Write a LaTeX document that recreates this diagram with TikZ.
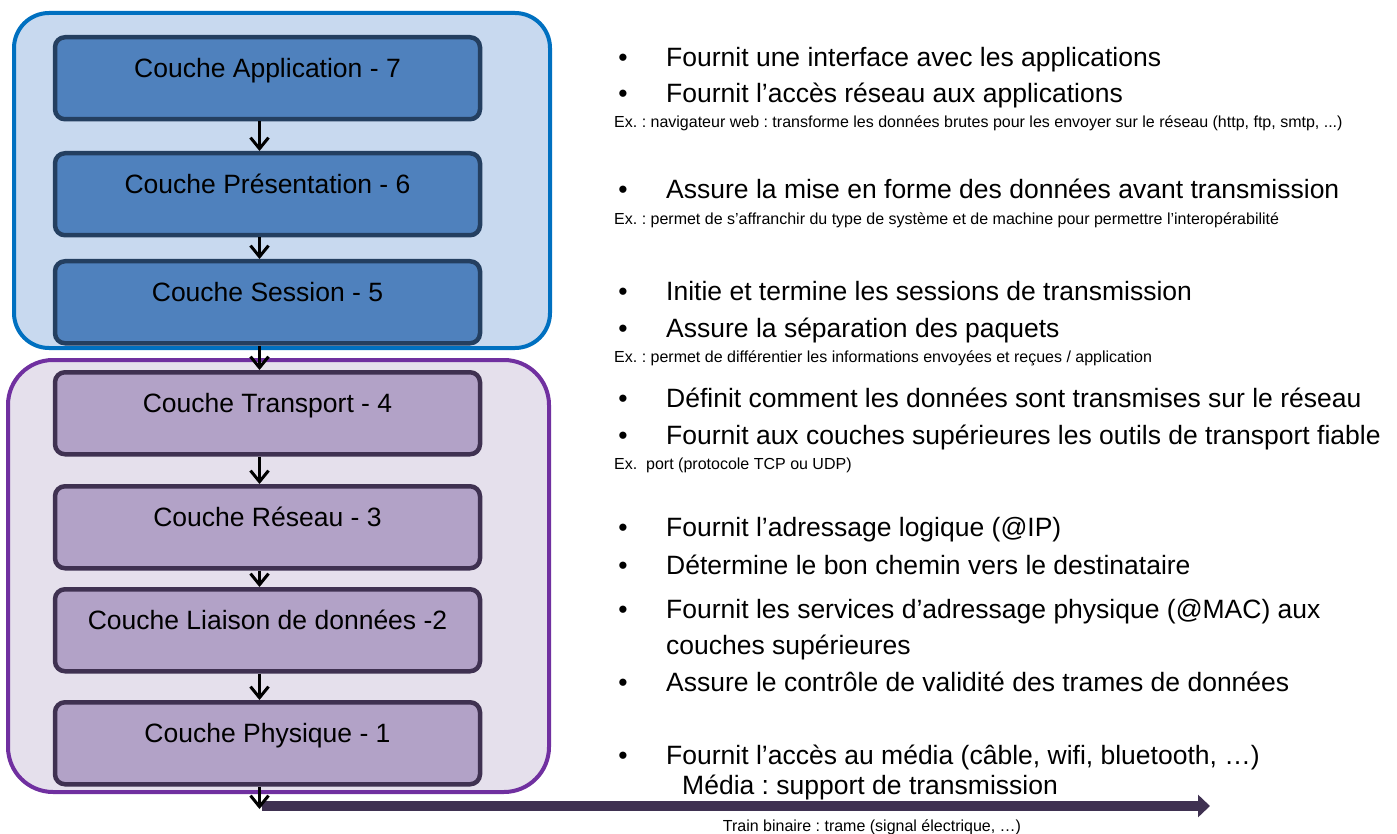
\documentclass[tikz,border=0pt]{standalone}
\usepackage{fontspec}
\setmainfont{Liberation Sans}
\usetikzlibrary{arrows.meta}
\definecolor{obB}{RGB}{0,112,192}
\definecolor{obF}{RGB}{200,217,239}
\definecolor{lbF}{RGB}{79,129,189}
\definecolor{lbD}{RGB}{36,63,96}
\definecolor{opB}{RGB}{112,48,160}
\definecolor{opF}{RGB}{229,224,236}
\definecolor{lpF}{RGB}{178,162,199}
\definecolor{lpD}{RGB}{63,49,81}
\frenchspacing
\begin{document}
\begin{tikzpicture}[x=1pt,y=-1pt,
  layer/.style={line width=4.5pt, rounded corners=10pt, minimum width=425pt,
    inner xsep=0pt, inner ysep=0pt, text height=40pt, text depth=42pt, anchor=north,
    font=\fontsize{26.5}{30}\selectfont},
  layerB/.style={layer, draw=lbD, fill=lbF},
  layerP/.style={layer, draw=lpD, fill=lpF},
  outerB/.style={draw=obB, fill=obF, line width=4pt, rounded corners=35pt},
  outerP/.style={draw=opB, fill=opF, line width=4pt, rounded corners=45pt},
  arr/.style={line width=3pt, -{Straight Barb[length=11pt,width=18pt]}},
  bar/.style={line width=10pt, draw=lpD, -{Triangle[length=12pt,width=22pt]}},
  txt/.style={anchor=base west, inner sep=0pt, font=\fontsize{26.5}{30}\selectfont},
  bul/.style={anchor=base, inner sep=0pt, font=\fontsize{26.5}{30}\selectfont},
  small/.style={anchor=base west, inner sep=0pt, font=\fontsize{16}{18}\selectfont}
]
\useasboundingbox (0,0) rectangle (1397,834);
% outer groups
\draw[outerB] (14,13) rectangle (550,348);
\draw[outerP] (8,360) rectangle (549,792);
% layers
\node[layerB] (L7) at (267.5,35) {Couche Application - 7};
\node[layerB] (L6) at (267.5,151) {Couche Présentation - 6};
\node[layerB] (L5) at (267.5,259) {Couche Session - 5};
\node[layerP] (L4) at (267.5,370) {Couche Transport - 4};
\node[layerP] (L3) at (267.5,484) {Couche Réseau - 3};
\node[layerP] (L2) at (267.5,587) {Couche Liaison de données -2};
\node[layerP] (L1) at (267.5,700) {Couche Physique - 1};
% bottom bar
\coordinate (bs) at (262,806);
\coordinate (be) at (1210,806);
\draw[bar] (bs) -- (be);
% arrows
\draw[arr] ([xshift=-8pt]L7.south) -- ([xshift=-8pt]L6.north);
\draw[arr] ([xshift=-8pt]L6.south) -- ([xshift=-8pt]L5.north);
\draw[arr] ([xshift=-8pt]L5.south) -- ([xshift=-8pt]L4.north);
\draw[arr] ([xshift=-8pt]L4.south) -- ([xshift=-8pt]L3.north);
\draw[arr] ([xshift=-8pt]L3.south) -- ([xshift=-8pt]L2.north);
\draw[arr] ([xshift=-8pt]L2.south) -- ([xshift=-8pt]L1.north);
\coordinate (b0) at (259.5,809);
\draw[arr] ([xshift=-8pt]L1.south) -- (b0);
% right-hand text
\node[bul] (b1) at (623,67) {•};
\node[txt] (t1) at (666,67) {Fournit une interface avec les applications};
\node[bul] (b2) at (623,103) {•};
\node[txt] (t2) at (666,103) {Fournit l’accès réseau aux applications};
\node[small] (e1) at (614,128) {Ex. : navigateur web : transforme les données brutes pour les envoyer sur le réseau (http, ftp, smtp, ...)};
\node[bul] (b3) at (623,199) {•};
\node[txt] (t3) at (666,199) {Assure la mise en forme des données avant transmission};
\node[small] (e2) at (614,225) {Ex. : permet de s’affranchir du type de système et de machine pour permettre l’interopérabilité};
\node[bul] (b4) at (623,301) {•};
\node[txt] (t4) at (666,301) {Initie et termine les sessions de transmission};
\node[bul] (b5) at (623,337) {•};
\node[txt] (t5) at (666,337) {Assure la séparation des paquets};
\node[small] (e3) at (614,362) {Ex. : permet de différentier les informations envoyées et reçues / application};
\node[bul] (b6) at (623,407) {•};
\node[txt] (t6) at (666,407) {Définit comment les données sont transmises sur le réseau};
\node[bul] (b7) at (623,444) {•};
\node[txt] (t7) at (666,444) {Fournit aux couches supérieures les outils de transport fiable};
\node[small] (e4) at (614,469) {Ex.~~port (protocole TCP ou UDP)};
\node[bul] (b8) at (623,536) {•};
\node[txt] (t8) at (666,536) {Fournit l’adressage logique (@IP)};
\node[bul] (b9) at (623,574) {•};
\node[txt] (t9) at (666,574) {Détermine le bon chemin vers le destinataire};
\node[bul] (b10) at (623,618) {•};
\node[txt] (t10) at (666,618) {Fournit les services d’adressage physique (@MAC) aux};
\node[txt] (t10b) at (666,654) {couches supérieures};
\node[bul] (b11) at (623,691) {•};
\node[txt] (t11) at (666,691) {Assure le contrôle de validité des trames de données};
\node[bul] (b12) at (623,764) {•};
\node[txt] (t12) at (666,764) {Fournit l’accès au média (câble, wifi, bluetooth, …)};
\node[txt] (t13) at (682,794) {Média : support de transmission};
\node[small, anchor=base] (tr) at (872,831) {Train binaire : trame (signal électrique, …)};
\end{tikzpicture}
\end{document}
